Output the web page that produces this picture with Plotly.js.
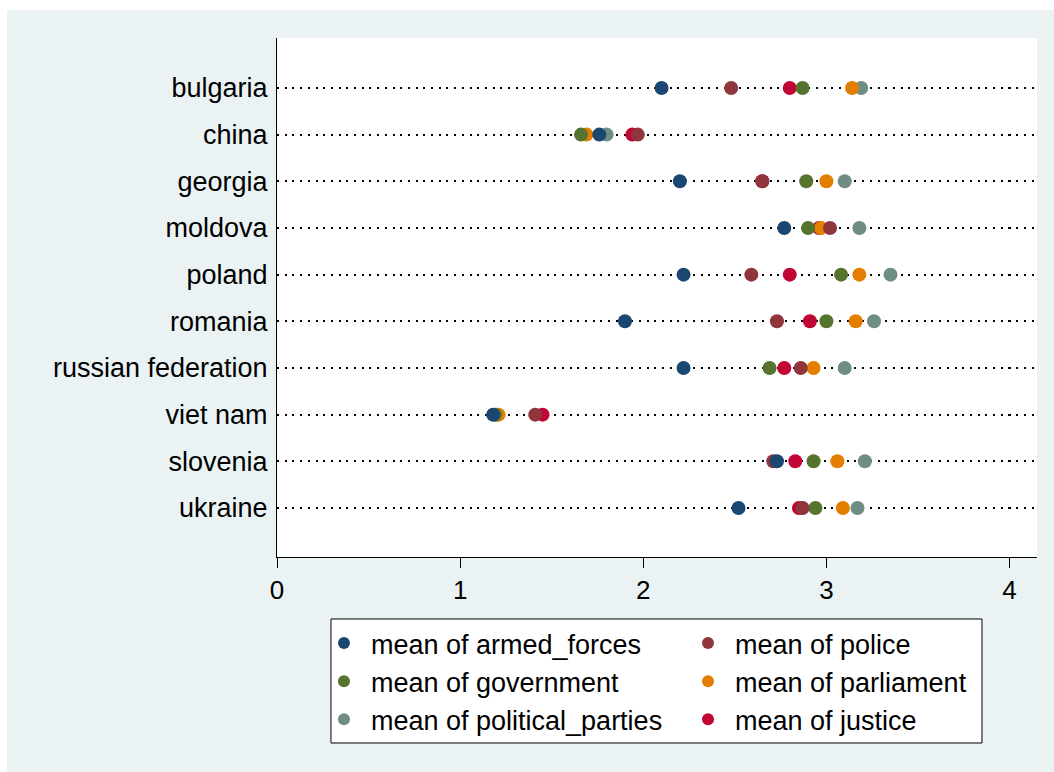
<!DOCTYPE html>
<html>
<head>
<meta charset="utf-8">
<script src="https://cdn.plot.ly/plotly-3.0.1.min.js"></script>
<style>
  html, body { margin: 0; padding: 0; background: #ffffff; width: 1054px; height: 772px; overflow: hidden; }
  #chart { position: absolute; left: 7px; top: 10px; width: 1047px; height: 762px; }
</style>
</head>
<body>
<div id="chart"></div>
<script>
// Data
var countries = ['bulgaria', 'china', 'georgia', 'moldova', 'poland', 'romania',
                 'russian federation', 'viet nam', 'slovenia', 'ukraine'];
var armed_forces      = [2.10, 1.76, 2.20, 2.77, 2.22, 1.90, 2.22, 1.18, 2.73, 2.52];
var police            = [2.48, 1.97, 2.65, 3.02, 2.59, 2.73, 2.86, 1.41, 2.71, 2.87];
var government        = [2.87, 1.66, 2.89, 2.90, 3.08, 3.00, 2.69, 1.19, 2.93, 2.94];
var parliament        = [3.14, 1.69, 3.00, 2.97, 3.18, 3.16, 2.93, 1.21, 3.06, 3.09];
var political_parties = [3.19, 1.80, 3.10, 3.18, 3.35, 3.26, 3.10, 1.20, 3.21, 3.17];
var justice           = [2.80, 1.94, 2.65, 2.96, 2.80, 2.91, 2.77, 1.45, 2.83, 2.85];
var xTicks = [0, 1, 2, 3, 4];

// Series (listed in drawing order: first drawn at the bottom)
var series = [
  {name: 'mean of justice',           values: justice,           color: '#C10534', rank: 6, legend: 'legend2'},
  {name: 'mean of political_parties', values: political_parties, color: '#6E8E84', rank: 5, legend: 'legend'},
  {name: 'mean of parliament',        values: parliament,        color: '#E37E00', rank: 4, legend: 'legend2'},
  {name: 'mean of government',        values: government,        color: '#55752F', rank: 3, legend: 'legend'},
  {name: 'mean of police',            values: police,            color: '#90353B', rank: 2, legend: 'legend2'},
  {name: 'mean of armed_forces',      values: armed_forces,      color: '#1A476F', rank: 1, legend: 'legend'}
];

var FONT = 'Liberation Sans, Arial, Helvetica, sans-serif';

var traces = series.map(function (s) {
  return {
    type: 'scatter',
    mode: 'markers',
    name: s.name,
    x: s.values,
    y: countries,
    legend: s.legend,
    legendrank: s.rank,
    marker: { color: s.color, size: 14, line: { width: 0 } },
    hoverinfo: 'x+y+name'
  };
});

function legendCfg(x) {
  return {
    orientation: 'v',
    x: x,
    xanchor: 'left',
    y: -0.1195,
    yanchor: 'top',
    bgcolor: 'rgba(0,0,0,0)',
    borderwidth: 0,
    itemwidth: 44,
    itemsizing: 'constant',
    traceorder: 'normal',
    font: { family: FONT, size: 27, color: '#000000' }
  };
}

var layout = {
  width: 1047,
  height: 762,
  paper_bgcolor: '#EAF2F3',
  plot_bgcolor: '#FFFFFF',
  font: { family: FONT, size: 26, color: '#000000' },
  margin: { l: 270, r: 17, t: 28, b: 215, pad: 0 },
  showlegend: true,
  xaxis: {
    range: [0, 4.15],
    tickvals: xTicks,
    ticktext: xTicks.map(String),
    ticks: 'outside',
    ticklen: 10,
    tickwidth: 1,
    tickcolor: '#000000',
    showline: true,
    linecolor: '#000000',
    linewidth: 1,
    showgrid: false,
    zeroline: false,
    tickfont: { family: FONT, size: 26, color: '#000000' }
  },
  yaxis: {
    type: 'category',
    categoryorder: 'array',
    categoryarray: countries,
    range: [countries.length - 1 + 1.05, -1.07],
    showline: true,
    linecolor: '#000000',
    linewidth: 1,
    ticks: '',
    showgrid: true,
    gridcolor: '#000000',
    gridwidth: 2,
    griddash: '2px,5.7px',
    zeroline: false,
    ticklabelstandoff: 3,
    tickfont: { family: FONT, size: 27, color: '#000000' }
  },
  legend: legendCfg(0.0526),
  legend2: legendCfg(0.5316),
  shapes: [{
    type: 'rect',
    xref: 'paper', yref: 'paper',
    x0: 0.07105, x1: 0.92763,
    y0: -0.35838, y1: -0.11946,
    fillcolor: '#FFFFFF',
    line: { color: '#000000', width: 1 },
    layer: 'below'
  }]
};

Plotly.newPlot('chart', traces, layout, { displayModeBar: false, staticPlot: true });
</script>
</body>
</html>
